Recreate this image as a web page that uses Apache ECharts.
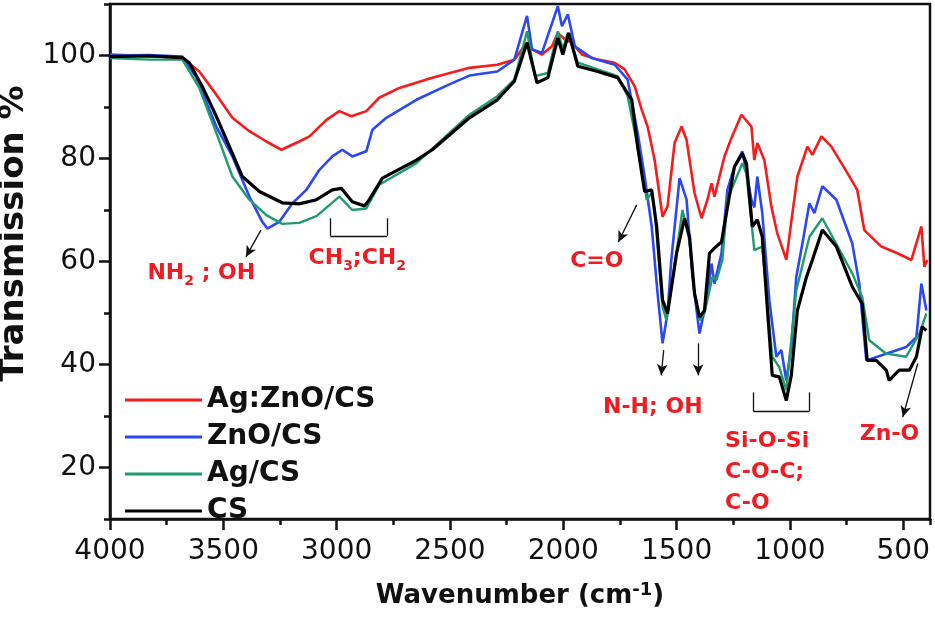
<!DOCTYPE html>
<html>
<head>
<meta charset="utf-8">
<script src="https://cdn.jsdelivr.net/npm/echarts@6/dist/echarts.min.js"></script>
<style>html,body{margin:0;padding:0;background:#fff}#c{width:935px;height:621px}</style>
</head>
<body>
<div id="c"></div>
<script>
// ---- data (wavenumber cm-1, transmission %) ----
const seriesNames = ['Ag:ZnO/CS', 'ZnO/CS', 'Ag/CS', 'CS'];
const xTickLabels = [500, 1000, 1500, 2000, 2500, 3000, 3500, 4000];
const yTickLabels = [20, 40, 60, 80, 100];

const agZnoCs = [[4000,100.2],[3827,99.9],[3681,99.5],[3606,96.9],[3531,92.4],[3460,87.9],[3385,85.3],[3310,83.3],[3244,81.7],[3165,83.3],[3120,84.3],[3045,87.5],[2988,89.2],[2935,88.2],[2869,89.2],[2812,91.8],[2723,93.7],[2578,95.7],[2414,97.6],[2291,98.2],[2216,99.2],[2160,102.5],[2138,101.2],[2094,100.2],[2050,101.8],[2024,104.4],[1993,103.1],[1962,102.5],[1918,100.2],[1848,99.2],[1773,98.6],[1729,97.3],[1685,94.0],[1654,89.5],[1628,86.2],[1597,79.7],[1562,68.7],[1540,70.7],[1509,83.0],[1478,86.2],[1456,83.6],[1421,73.3],[1390,68.4],[1364,72.0],[1346,75.2],[1333,72.6],[1289,80.4],[1258,84.0],[1214,88.5],[1170,86.2],[1157,79.7],[1144,83.0],[1113,79.7],[1082,70.7],[1056,65.5],[1016,60.3],[989,69.4],[967,76.5],[923,82.3],[901,80.7],[861,84.3],[817,82.3],[747,77.2],[703,73.9],[672,66.1],[597,62.9],[526,61.6],[464,60.3],[420,66.8],[407,59.0],[394,60.3]];

const znoCs = [[4000,100.0],[3827,100.1],[3681,99.8],[3619,95.7],[3531,86.2],[3460,80.4],[3385,72.6],[3328,67.7],[3306,66.4],[3253,67.7],[3195,71.3],[3134,73.9],[3076,77.8],[3019,80.4],[2975,81.7],[2931,80.4],[2869,81.4],[2842,85.6],[2781,87.9],[2648,91.4],[2503,94.4],[2414,96.1],[2291,96.9],[2216,99.2],[2160,107.7],[2138,101.2],[2094,100.5],[2024,109.6],[2006,105.7],[1980,108.0],[1949,101.8],[1874,99.5],[1773,98.2],[1716,95.3],[1672,85.0],[1641,76.5],[1610,66.8],[1584,53.8],[1562,44.1],[1540,50.0],[1524,60.0],[1487,76.2],[1456,72.0],[1430,57.0],[1399,46.0],[1368,52.5],[1346,59.6],[1333,55.7],[1302,61.6],[1276,73.9],[1245,78.4],[1210,81.4],[1170,72.0],[1157,70.5],[1144,76.5],[1122,69.4],[1091,52.5],[1060,41.5],[1038,42.8],[1016,36.9],[994,43.4],[972,57.0],[945,63.5],[914,71.3],[892,69.4],[857,74.6],[795,72.0],[725,63.5],[694,55.7],[663,40.8],[575,42.1],[487,43.4],[442,45.3],[420,55.7],[398,50.5]];

const agCs = [[4000,99.5],[3827,99.2],[3681,99.2],[3663,97.9],[3606,93.7],[3531,85.0],[3460,76.5],[3385,72.0],[3310,69.0],[3240,67.3],[3165,67.5],[3089,68.8],[2988,72.6],[2931,70.0],[2869,70.3],[2812,74.9],[2648,79.1],[2414,88.5],[2291,92.1],[2216,95.3],[2160,104.7],[2125,96.0],[2068,96.6],[2024,104.7],[2002,101.2],[1980,104.4],[1936,98.6],[1848,97.3],[1760,96.0],[1716,92.1],[1672,82.3],[1632,72.0],[1610,73.3],[1597,70.0],[1562,51.2],[1545,48.6],[1500,62.0],[1474,70.0],[1443,64.0],[1421,54.0],[1399,48.6],[1377,50.0],[1342,57.0],[1324,56.4],[1298,60.3],[1276,72.0],[1210,79.1],[1192,77.0],[1157,62.2],[1122,62.9],[1078,41.5],[1047,39.5],[1016,35.0],[972,54.4],[914,64.8],[857,68.4],[725,57.7],[681,53.1],[650,44.7],[575,42.1],[487,41.5],[429,46.0],[398,49.9]];

const cs = [[4000,99.8],[3827,99.9],[3681,99.6],[3650,98.6],[3593,94.0],[3531,88.2],[3460,81.0],[3416,76.5],[3341,73.6],[3240,71.4],[3165,71.2],[3089,72.0],[3019,73.9],[2979,74.2],[2931,71.6],[2878,70.8],[2856,72.0],[2798,76.2],[2648,79.7],[2578,81.7],[2414,87.9],[2291,91.4],[2216,95.0],[2160,102.5],[2116,94.7],[2068,95.7],[2024,103.4],[2002,100.2],[1976,104.4],[1936,97.9],[1848,96.9],[1760,95.7],[1698,91.4],[1672,82.3],[1641,73.6],[1610,73.9],[1588,66.8],[1562,52.5],[1540,49.9],[1500,61.6],[1465,68.4],[1443,64.8],[1421,53.8],[1399,49.2],[1377,50.5],[1355,61.6],[1333,62.6],[1302,63.8],[1280,69.4],[1245,78.4],[1210,81.0],[1192,79.0],[1166,66.8],[1144,68.1],[1122,64.8],[1099,50.5],[1078,37.9],[1047,37.6],[1016,33.0],[994,37.9],[967,50.5],[927,57.0],[901,60.3],[857,66.1],[795,62.9],[725,55.1],[681,51.8],[659,40.8],[619,40.8],[575,38.9],[562,36.9],[518,38.9],[473,38.9],[442,41.5],[416,47.3],[398,46.6]];

// ---- annotation layout (data coordinates) ----
const annoLabels = [
  { coord: [3597, 57.7], text: '{a|NH}{s|2}{a| ; OH}', align: 'center' },
  { coord: [2909, 60.7], text: '{a|CH}{s|3}{a|;CH}{s|2}', align: 'center' },
  { coord: [1852, 60.1], text: '{a|C=O}', align: 'center' },
  { coord: [1605, 31.7], text: '{a|N-H; OH}', align: 'center' },
  { coord: [1286, 19.1], text: '{a|Si-O-Si}\n{a|C-O-C;}\n{a|C-O}', align: 'left' },
  { coord: [561, 26.5], text: '{a|Zn-O}', align: 'center' }
];
const arrows = [
  [[3334, 66.1], [3400, 60.9]],
  [[1676, 71.0], [1757, 63.8]],
  [[1557, 42.8], [1568, 37.9]],
  [[1405, 44.1], [1405, 37.9]],
  [[436, 40.2], [502, 29.8]]
];
const brackets = [
  [[3028, 68.4], [3028, 65.0], [2778, 65.0], [2778, 68.4]],
  [[1161, 34.6], [1161, 30.9], [914, 30.9], [914, 34.6]]
];

const colors = ['#f41c1c', '#2b48f2', '#1f9b6d', '#000000'];
const widths = [2.6, 2.6, 2.4, 3.2];
const seriesData = [agZnoCs, znoCs, agCs, cs];

const chart = echarts.init(document.getElementById('c'), null, { renderer: 'canvas' });

const markLineData = [];
arrows.forEach(a => {
  markLineData.push([{ coord: a[0], symbol: 'none' }, { coord: a[1], symbol: 'arrow', symbolSize: [8, 11] }]);
});
brackets.forEach(b => {
  for (let i = 0; i < b.length - 1; i++) {
    markLineData.push([{ coord: b[i], symbol: 'none' }, { coord: b[i + 1], symbol: 'none' }]);
  }
});

const richStyle = {
  a: { fontFamily: 'DejaVu Sans', fontWeight: 'bold', fontSize: 22, color: '#ee1d23', lineHeight: 31 },
  s: { fontFamily: 'DejaVu Sans', fontWeight: 'bold', fontSize: 14, color: '#ee1d23', lineHeight: 16, verticalAlign: 'bottom' }
};

const series = seriesNames.map((n, i) => ({
  name: n,
  type: 'line',
  data: seriesData[i],
  symbol: 'none',
  smooth: false,
  lineStyle: { color: colors[i], width: widths[i] },
  itemStyle: { color: colors[i] },
  z: 2 + i
}));

series.push({
  name: 'annotations',
  type: 'line',
  data: [],
  symbol: 'none',
  silent: true,
  z: 10,
  markLine: {
    silent: true,
    animation: false,
    symbol: ['none', 'none'],
    label: { show: false },
    lineStyle: { color: '#111', width: 1.3, type: 'solid' },
    emphasis: { disabled: true },
    data: markLineData
  },
  markPoint: {
    silent: true,
    animation: false,
    symbol: 'rect',
    symbolSize: 1,
    itemStyle: { color: 'rgba(0,0,0,0)' },
    data: annoLabels.map(l => ({
      coord: l.coord,
      label: {
        show: true,
        position: 'inside',
        align: l.align,
        verticalAlign: 'middle',
        formatter: l.text,
        rich: richStyle
      }
    }))
  }
});

const tickFont = { fontFamily: 'DejaVu Sans', fontSize: 28, color: '#111' };

chart.setOption({
  animation: false,
  backgroundColor: '#fff',
  grid: { left: 110, right: 5, top: 4, bottom: 102, show: true, borderColor: '#111', borderWidth: 2.5, containLabel: false, outerBoundsMode: 'none' },
  legend: {
    orient: 'vertical',
    left: 120,
    top: 380,
    icon: 'rect',
    itemWidth: 77,
    itemHeight: 3,
    itemGap: 7,
    data: seriesNames,
    textStyle: { fontFamily: 'DejaVu Sans', fontWeight: 'bold', fontSize: 28, color: '#111', lineHeight: 30 },
    selectedMode: false
  },
  xAxis: [
    {
      type: 'value', min: 382, max: 4000, inverse: true,
      minInterval: 500, maxInterval: 500, splitNumber: 8,
      axisLine: { show: true, lineStyle: { color: '#111', width: 2.5 } },
      axisTick: { show: true, length: 11, lineStyle: { color: '#111', width: 2.5 } },
      axisLabel: Object.assign({ margin: 19, showMinLabel: false, showMaxLabel: true,
        formatter: v => (xTickLabels.indexOf(v) >= 0 ? String(v) : '') }, tickFont),
      splitLine: { show: false },
      name: '{a|Wavenumber (cm}{s|-1}{a|)}',
      nameLocation: 'middle',
      nameGap: 62,
      nameTextStyle: {
        rich: {
          a: { fontFamily: 'DejaVu Sans', fontWeight: 'bold', fontSize: 26, color: '#111', lineHeight: 30 },
          s: { fontFamily: 'DejaVu Sans', fontWeight: 'bold', fontSize: 18, color: '#111', lineHeight: 18, verticalAlign: 'top' }
        }
      }
    },
    {
      type: 'value', min: 382, max: 4000, inverse: true, position: 'bottom',
      minInterval: 250, maxInterval: 250, splitNumber: 15,
      axisLine: { show: false },
      axisTick: { show: true, length: 6, lineStyle: { color: '#111', width: 2.5 } },
      axisLabel: { show: false },
      splitLine: { show: false }
    }
  ],
  yAxis: [
    {
      type: 'value', min: 10, max: 110,
      minInterval: 20, maxInterval: 20, splitNumber: 5,
      axisLine: { show: true, lineStyle: { color: '#111', width: 2.5 } },
      axisTick: { show: true, length: 11, lineStyle: { color: '#111', width: 2.5 } },
      axisLabel: Object.assign({ margin: 14, showMinLabel: false, showMaxLabel: false,
        formatter: v => (yTickLabels.indexOf(v) >= 0 ? String(v) : '') }, tickFont),
      splitLine: { show: false },
      name: 'Transmission %',
      nameLocation: 'middle',
      nameGap: 77,
      nameTextStyle: { fontFamily: 'DejaVu Sans', fontWeight: 'bold', fontSize: 34, color: '#111', padding: [0, 0, 0, 56] }
    },
    {
      type: 'value', min: 10, max: 110, position: 'left',
      minInterval: 10, maxInterval: 10, splitNumber: 10,
      axisLine: { show: false },
      axisTick: { show: true, length: 6, lineStyle: { color: '#111', width: 2.5 } },
      axisLabel: { show: false },
      splitLine: { show: false }
    }
  ],
  series: series
});
</script>
</body>
</html>
